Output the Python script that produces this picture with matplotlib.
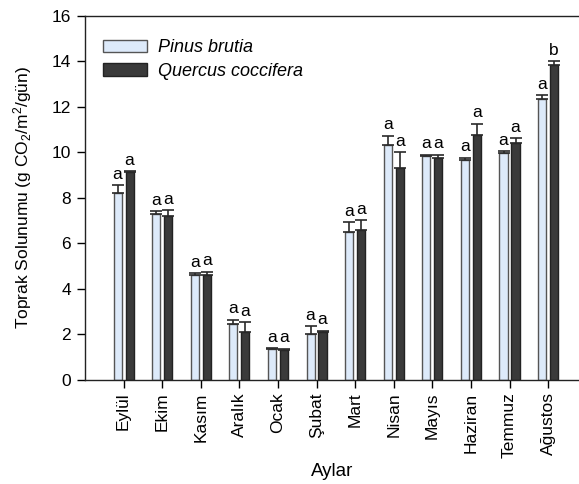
import matplotlib
matplotlib.use("Agg")
import matplotlib.pyplot as plt
import numpy as np

plt.rcParams['font.family'] = ['Liberation Sans', 'DejaVu Sans']
plt.rcParams['mathtext.fontset'] = 'custom'
plt.rcParams['mathtext.rm'] = 'Liberation Sans'
plt.rcParams['mathtext.it'] = 'Liberation Sans:italic'

months = ["Eylül", "Ekim", "Kasım", "Aralık", "Ocak", "Şubat", "Mart",
          "Nisan", "Mayıs", "Haziran", "Temmuz", "Ağustos"]
pinus = [8.2, 7.3, 4.6, 2.45, 1.35, 2.0, 6.5, 10.3, 9.85, 9.68, 9.95, 12.32]
pinus_err = [0.35, 0.1, 0.1, 0.2, 0.04, 0.35, 0.42, 0.42, 0.04, 0.08, 0.1, 0.18]
quercus = [9.12, 7.2, 4.63, 2.1, 1.3, 2.12, 6.58, 9.3, 9.75, 10.75, 10.42, 13.85]
quercus_err = [0.04, 0.25, 0.12, 0.45, 0.08, 0.05, 0.45, 0.7, 0.15, 0.5, 0.2, 0.15]
pinus_letters = ["a"] * 12
quercus_letters = ["a"] * 11 + ["b"]

fig = plt.figure(figsize=(5.79, 4.84), dpi=100)
ax = fig.add_axes([0.1468, 0.2149, 0.8532, 0.7527])

x = np.arange(1, len(months) + 1)
w = 0.21
off = 0.155
ekw = dict(ecolor='#2a2a2a', elinewidth=1.2, capsize=4.5, capthick=1.2)
ax.bar(x - off, pinus, w, color='#ddeafa', edgecolor='#555555', linewidth=1.0,
       label='Pinus brutia', zorder=2)
ax.errorbar(x - off, pinus, yerr=[np.zeros(12), pinus_err], fmt='none', zorder=3, **ekw)
ax.bar(x + off, quercus, w, color='#3a3a3a', edgecolor='#222222', linewidth=1.0,
       label='Quercus coccifera', zorder=2)
ax.errorbar(x + off, quercus, yerr=[np.zeros(12), quercus_err], fmt='none', zorder=3, **ekw)

for xi, v, e, t in zip(x - off, pinus, pinus_err, pinus_letters):
    ax.text(xi, v + e + 0.15, t, ha='center', va='bottom', fontsize=12.5)
for xi, v, e, t in zip(x + off, quercus, quercus_err, quercus_letters):
    ax.text(xi, v + e + 0.15, t, ha='center', va='bottom', fontsize=12.5)

ax.set_xlim(0, 12.8)
ax.set_ylim(0, 16)
ax.set_yticks(np.arange(0, 17, 2))
ax.set_xticks(x)
ax.set_xticklabels(months, rotation=90, fontsize=12.5)
ax.tick_params(axis='y', labelsize=12.5, direction='out', length=6, width=1, pad=4)
ax.tick_params(axis='x', direction='out', length=6, width=1, pad=3)
ax.spines['right'].set_visible(False)
for s in ['left', 'bottom', 'top']:
    ax.spines[s].set_linewidth(1.0)
    ax.spines[s].set_color('#222222')

ax.set_ylabel('Toprak Solunumu (g CO$_2$/m$^2$/gün)', fontsize=12.5, labelpad=13)
ax.set_xlabel('Aylar', fontsize=13.5, labelpad=3)

ax.legend(loc='upper left', bbox_to_anchor=(0.022, 0.955), frameon=False,
          prop={'style': 'italic', 'size': 13}, handlelength=2.44,
          handleheight=0.72, labelspacing=0.38, handletextpad=0.6,
          borderaxespad=0)

fig.savefig('out.png', dpi=100)
